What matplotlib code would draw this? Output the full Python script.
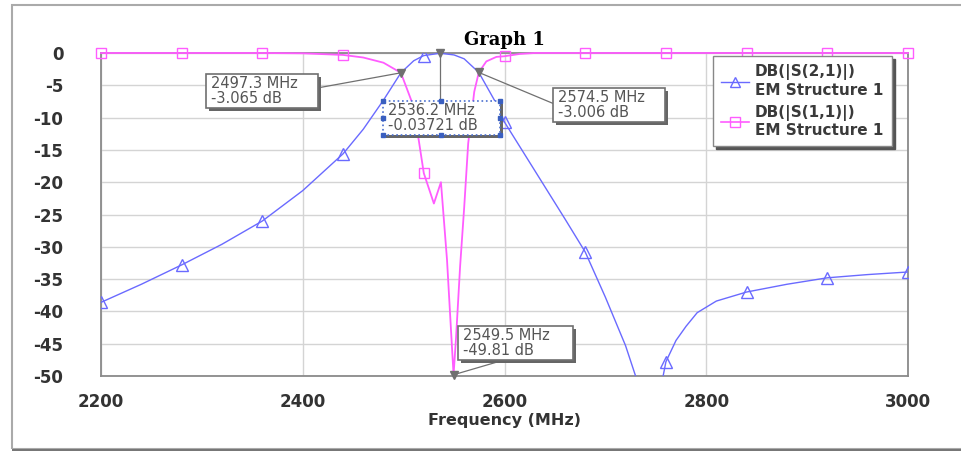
import numpy as np
import matplotlib
matplotlib.use("Agg")
import matplotlib.pyplot as plt
from matplotlib.lines import Line2D
from matplotlib.patches import Rectangle
import matplotlib.patheffects as pe

plt.rcParams["axes.unicode_minus"] = False

# S21 trace (transmission)
s21_freq = [2200, 2240, 2280, 2320, 2360, 2400, 2440, 2460, 2480, 2497.3, 2510, 2520,
            2536.2, 2550, 2560, 2574.5, 2590, 2600, 2620, 2640, 2660, 2680, 2700,
            2720, 2731, 2740, 2750, 2757, 2760, 2770, 2780, 2791, 2810, 2840, 2880,
            2920, 2960, 3000]
s21_db = [-38.6, -35.8, -32.8, -29.6, -26.0, -21.3, -15.6, -11.8, -7.3, -3.065, -1.2, -0.4,
          -0.037, -0.3, -0.9, -3.006, -7.3, -10.7, -15.7, -20.7, -25.7, -30.8, -37.8,
          -45.3, -50.5, -58, -58, -50.2, -47.8, -44.5, -42.3, -40.2, -38.4, -37.0, -35.8,
          -34.8, -34.3, -33.9]

# S11 trace (reflection)
s11_freq = [2200, 2280, 2360, 2400, 2440, 2460, 2480, 2497.3, 2508, 2515, 2520, 2530,
            2537, 2543, 2547, 2549.5, 2552, 2556, 2560, 2564, 2570, 2574.5, 2582,
            2592, 2600, 2615, 2630, 2680, 2760, 2840, 2920, 3000]
s11_db = [0, 0, 0, -0.05, -0.3, -0.7, -1.5, -3.065, -7.5, -13.5, -18.6, -23.3,
          -20.0, -32.0, -43.0, -49.81, -44.0, -33.0, -24.0, -14.0, -6.0, -3.006, -1.3,
          -0.6, -0.5, -0.15, 0, 0, 0, 0, 0, 0]

# symbol positions (every 80 MHz)
sym_freq = [2200, 2280, 2360, 2440, 2520, 2600, 2680, 2760, 2840, 2920, 3000]

# marker readouts: freq, dB, label text
mk_freq = [2497.3, 2536.2, 2574.5, 2549.5]
mk_db = [-3.065, -0.03721, -3.006, -49.81]
mk_text = ["2497.3 MHz\n-3.065 dB", "2536.2 MHz\n-0.03721 dB",
           "2574.5 MHz\n-3.006 dB", "2549.5 MHz\n-49.81 dB"]
# readout boxes: left/right freq, top/bottom dB, and where the leader meets the box
box_x0 = [2304, 2479.5, 2648, 2554]
box_x1 = [2415, 2595.5, 2759, 2668]
box_y0 = [-3.25, -7.45, -5.4, -42.3]
box_y1 = [-8.5, -12.7, -10.7, -47.5]
lead_x = [2415, 2536.2, 2648, 2600]
lead_y = [-5.4, -7.45, -7.8, -47.5]

blue = "#6a6aff"
pink = "#ff5cff"
grey_txt = "#333333"


def main():
    fig = plt.figure(figsize=(9.62, 4.53), dpi=100)
    W, H = 962, 453

    # outer window frame
    fig.patches.append(Rectangle((12 / W, 1 - 449 / H), 960 / W, 444 / H,
                                 transform=fig.transFigure, fill=False,
                                 edgecolor="#aaaaaa", lw=1.5))
    fig.patches.append(Rectangle((12 / W, 1 - 451 / H), 960 / W, 2.5 / H,
                                 transform=fig.transFigure, color="#777777", lw=0))

    ax = fig.add_axes([101 / W, 1 - 376 / H, 807 / W, 323 / H])
    ax.set_xlim(2200, 3000)
    ax.set_ylim(-50, 0)
    ax.set_xticks([2200, 2400, 2600, 2800, 3000])
    ax.set_yticks(np.arange(-50, 1, 5))
    ax.grid(True, color="#d4d4d4", lw=1)
    ax.set_axisbelow(True)
    for s in ax.spines.values():
        s.set_color("#8a8a8a")
        s.set_linewidth(1.3)
    ax.tick_params(length=0, labelsize=12, labelcolor=grey_txt)
    ax.tick_params(axis="y", pad=27)
    ax.tick_params(axis="x", pad=12)
    for lab in ax.get_xticklabels() + ax.get_yticklabels():
        lab.set_fontweight("bold")

    f21 = np.array(s21_freq)
    f11 = np.array(s11_freq)
    idx21 = [int(np.argmin(np.abs(f21 - f))) for f in sym_freq if np.min(np.abs(f21 - f)) < 0.5]
    idx11 = [int(np.argmin(np.abs(f11 - f))) for f in sym_freq if np.min(np.abs(f11 - f)) < 0.5]

    ax.plot(s21_freq, s21_db, color=blue, lw=1, marker="^", ms=8, mfc="none",
            mec=blue, markevery=idx21, zorder=4, clip_on=True)
    ax.plot(s11_freq, s11_db, color=pink, lw=1.3, marker="s", ms=7, mfc="none",
            mec=pink, markevery=idx11, zorder=3, clip_on=False)

    # marker readouts
    ax.plot(mk_freq, mk_db, ls="", marker="v", ms=6, color="#707070", zorder=6, clip_on=False)
    shadow = [pe.withSimplePatchShadow(offset=(2, -2), shadow_rgbFace="#666666", alpha=1)]
    for i in range(4):
        sel = i == 1
        ax.plot([mk_freq[i], lead_x[i]], [mk_db[i], lead_y[i]], color="#707070", lw=0.9,
                zorder=5)
        r = Rectangle((box_x0[i], box_y1[i]), box_x1[i] - box_x0[i], box_y0[i] - box_y1[i],
                      fc="white", ec="#4a6fd0" if sel else "#707070",
                      ls=":" if sel else "-", lw=1.2, zorder=7)
        r.set_path_effects(shadow)
        ax.add_patch(r)
        ax.text(box_x0[i] + 5, (box_y0[i] + box_y1[i]) / 2, mk_text[i], fontsize=10.5,
                color="#555555", ha="left", va="center", linespacing=1.0, zorder=8)
        if sel:
            hx = [box_x0[i], (box_x0[i] + box_x1[i]) / 2, box_x1[i]]
            hy = [box_y0[i], (box_y0[i] + box_y1[i]) / 2, box_y1[i]]
            px = [x for x in hx for y in hy if not (x == hx[1] and y == hy[1])]
            py = [y for x in hx for y in hy if not (x == hx[1] and y == hy[1])]
            ax.plot(px, py, ls="", marker="s", ms=3, color="#3a5fc0", zorder=9,
                    clip_on=False)

    ax.set_title("Graph 1", fontsize=13, fontweight="bold", family="DejaVu Serif", pad=6)
    ax.set_xlabel("Frequency (MHz)", fontsize=11.5, color=grey_txt, fontweight="bold",
                  labelpad=2)

    handles = [Line2D([], [], color=blue, lw=1, marker="^", mfc="none", ms=7),
               Line2D([], [], color=pink, lw=1.2, marker="s", mfc="none", ms=7)]
    labels = ["DB(|S(2,1)|)\nEM Structure 1", "DB(|S(1,1)|)\nEM Structure 1"]
    leg = ax.legend(handles, labels, loc="upper left",
                    bbox_to_anchor=(713 / W, 1 - 56 / H), bbox_transform=fig.transFigure,
                    borderaxespad=0, fancybox=False, framealpha=1, edgecolor="#888888",
                    shadow={"color": "#555555", "alpha": 1},
                    prop={"size": 11, "weight": "bold"},
                    handlelength=1.8, handletextpad=0.4, labelspacing=0.45,
                    borderpad=0.55)
    for t in leg.get_texts():
        t.set_color("#3a3a3a")
    leg.set_zorder(10)

    fig.savefig("out.png", dpi=100)


if __name__ == "__main__":
    main()
